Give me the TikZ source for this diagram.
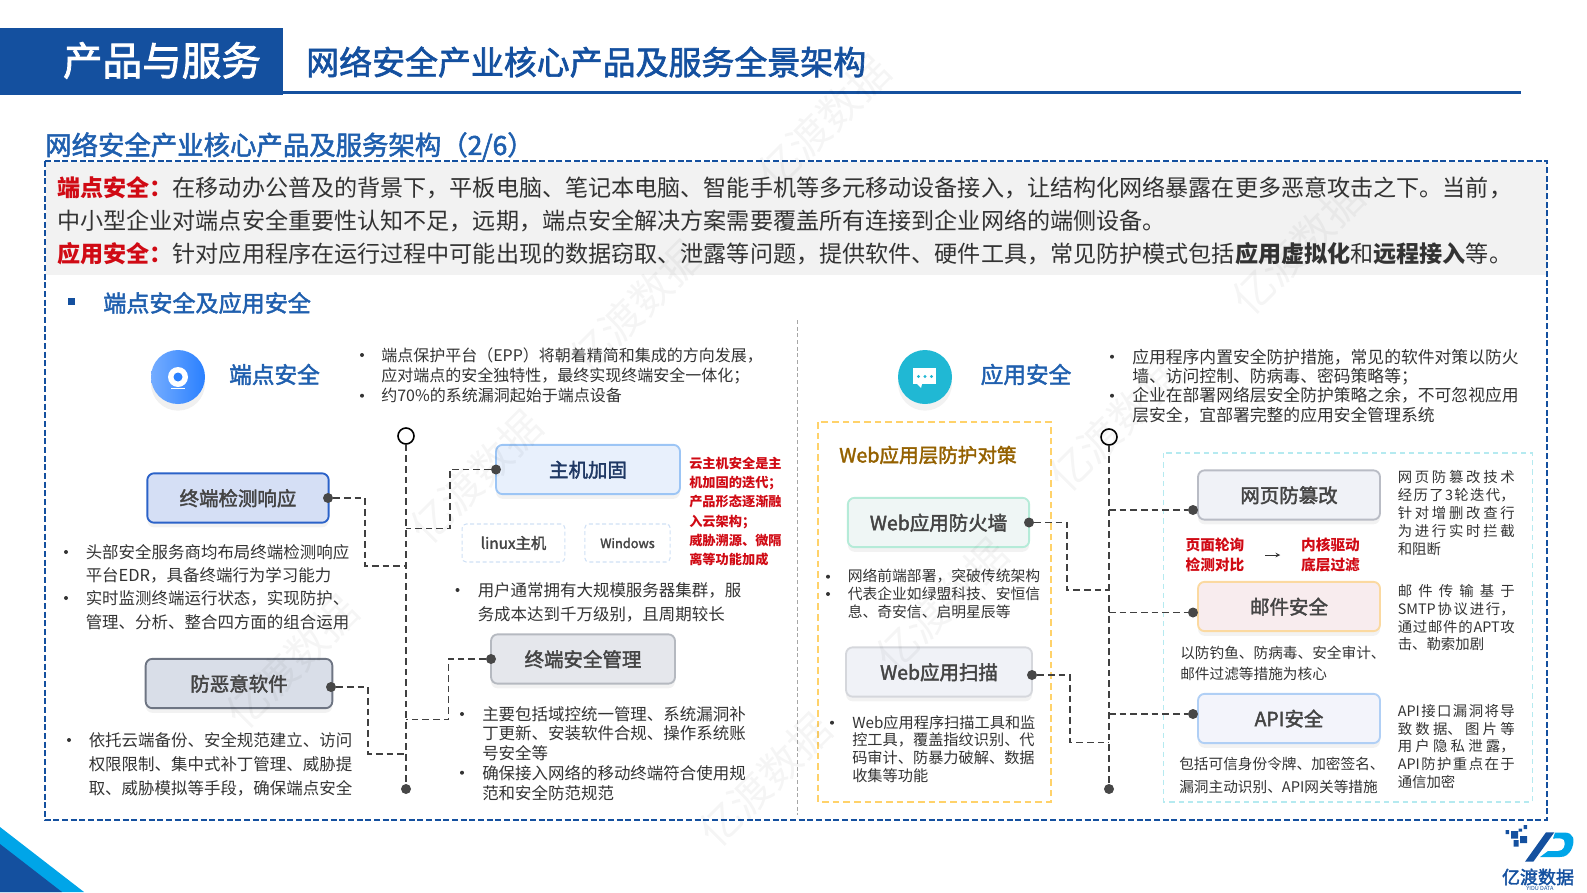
\documentclass[tikz,border=0pt]{standalone}
\usepackage{fontspec}
\setmainfont{Noto Sans CJK SC}
\newfontfamily\semib{Noto Sans CJK SC}[FakeBold=2]
\usetikzlibrary{shadows}
\XeTeXlinebreaklocale "zh"
\XeTeXlinebreakskip=0pt plus 8pt
\definecolor{navy}{HTML}{14509F}
\definecolor{titleblue}{HTML}{1F5FAE}
\definecolor{band}{HTML}{F2F2F2}
\definecolor{txt}{HTML}{333333}
\definecolor{redtxt}{HTML}{D00A14}
\definecolor{boxtxt}{HTML}{444444}
\definecolor{cyanb}{HTML}{00A5E8}
\definecolor{iconblue}{HTML}{2A80FF}
\definecolor{iconteal}{HTML}{20B8D4}
\definecolor{tagline}{HTML}{CFE0F5}
% one justified line of the narrow columns
\newcommand{\jline}[1]{\parbox[b]{87.75pt}{\parfillskip=0pt\tolerance=9999\hbadness=10000 #1\par}}
\tikzset{
  card/.style={draw, rounded corners=5pt, line width=1.4pt, minimum height=37pt, inner sep=0pt,
    text height=12.5pt, text depth=1pt,
    font=\fontsize{14.6}{17}\selectfont\semib, text=boxtxt,
    drop shadow={opacity=.10, shadow xshift=0pt, shadow yshift=-3.5pt}},
  para/.style 2 args={anchor=west, align=left, inner sep=0pt, text=txt, font=\fontsize{#1}{#2}\selectfont},
  bul/.style={circle, fill=txt, inner sep=0pt, minimum size=3pt},
  dotn/.style={circle, fill=black!72, inner sep=0pt, minimum size=7.5pt},
  link/.style={draw=black!75, line width=.9pt, dash pattern=on 5pt off 3pt},
  ring/.style={circle, draw=black, fill=white, line width=1.2pt, inner sep=0pt, minimum size=12pt},
  tag/.style={draw=tagline, line width=.8pt, rounded corners=3pt, dash pattern=on 3pt off 2pt, inner sep=0pt,
    minimum height=28.5pt, font=\fontsize{11.5}{14}\selectfont\semib, text=boxtxt},
  head/.style={font=\fontsize{17}{20}\selectfont\semib, text=titleblue},
  redn/.style={align=center, inner sep=0pt, text=redtxt, font=\fontsize{11}{15.5}\selectfont\bfseries},
  wmark/.style={rotate=45, opacity=.04, text=black, font=\fontsize{31}{31}\selectfont},
}
\begin{document}
\begin{tikzpicture}[x=.75pt, y=-.75pt]
  \useasboundingbox (0,0) rectangle (1587,892);
  % header
  \fill[navy] (0,28) rectangle (283,95);
  \fill[navy] (283,91) rectangle (1521,94);
  \node[text=white, font=\fontsize{29.7}{32}\selectfont\semib, inner sep=0pt] (chap) at (162,60.5) {产品与服务};
  \node[anchor=west, inner sep=0pt, text=navy, font=\fontsize{24.7}{28}\selectfont\semib] (pagetitle) at (306,62) {网络安全产业核心产品及服务全景架构};
  \node[anchor=west, inner sep=0pt, text=titleblue, font=\fontsize{19.8}{24}\selectfont\semib] (sect) at (45,146) {网络安全产业核心产品及服务架构（2/6）};
  % frame and text band
  \fill[band] (46,162) rectangle (1547,275);
  \draw[navy, line width=1.7pt, dash pattern=on 4.5pt off 2pt] (45,161) rectangle (1547,820);
  \node[para={17.32}{24.75}] (intro) at (57,221) {{\color{redtxt}\bfseries 端点安全：}在移动办公普及的背景下，平板电脑、笔记本电脑、智能手机等多元移动设备接入，让结构化网络暴露在更多恶意攻击之下。当前，\\
    中小型企业对端点安全重要性认知不足，远期，端点安全解决方案需要覆盖所有连接到企业网络的端侧设备。\\
    {\color{redtxt}\bfseries 应用安全：}针对应用程序在运行过程中可能出现的数据窃取、泄露等问题，提供软件、硬件工具，常见防护模式包括{\bfseries 应用虚拟化}和{\bfseries 远程接入}等。};
  \fill[navy] (68,298) rectangle (75,305);
  \node[anchor=west, inner sep=0pt, text=titleblue, font=\fontsize{17.3}{20}\selectfont\semib] (subsect) at (103,303) {端点安全及应用安全};
  \draw[gray!70, line width=.6pt, dash pattern=on 3pt off 2pt] (797.5,320) -- (797.5,815);

  % left half
  \node[circle, minimum size=40.5pt, inner sep=0pt, left color=iconblue!65!white, right color=iconblue, drop shadow={opacity=.12, shadow xshift=0pt, shadow yshift=-5pt}] (iconl) at (178,377) {};
  \fill[white] (178,377) circle (10);
  \fill[iconblue] (178,377) circle (4.5);
  \fill[white] (171,387.5) rectangle (185,389);
  \node[head] (endp) at (274.5,374.5) {端点安全};
  \node[bul] (b1) at (362,355) {};
  \node[bul] (b2) at (362,395.7) {};
  \node[para={12}{15}] (endptxt) at (381,375.5) {端点保护平台（EPP）将朝着精简和集成的方向发展，\\应对端点的安全独特性，最终实现终端安全一体化；\\约70\%的系统漏洞起始于端点设备};

  \node[ring] (topl) at (406,436) {};
  \node[dotn] (botl) at (406,789) {};
  \draw[link] (topl) -- (botl);

  \node[card, minimum width=136pt, fill={rgb,255:red,213;green,223;blue,245}, draw={rgb,255:red,43;green,98;blue,200}] (edr) at (238,498) {终端检测响应};
  \node[dotn] (edrd) at (328,498) {};
  \coordinate (edrk) at (365,566);
  \coordinate (edrs) at (406,566);
  \draw[link] (edrd) -| (edrk) -- (edrs);
  \node[bul] (b3) at (66,552) {};
  \node[bul] (b4) at (66,598) {};
  \node[para={12.35}{17.5}] (edrtxt) at (85.5,586.7) {头部安全服务商均布局终端检测响应\\平台EDR，具备终端行为学习能力\\实时监测终端运行状态，实现防护、\\管理、分析、整合四方面的组合运用};

  \node[card, minimum width=140pt, fill={rgb,255:red,217;green,222;blue,232}, draw={rgb,255:red,110;green,117;blue,131}] (anti) at (239,683.5) {防恶意软件};
  \node[dotn] (antid) at (331,687) {};
  \coordinate (antik) at (368,754);
  \coordinate (antis) at (406,754);
  \draw[link] (antid) -| (antik) -- (antis);
  \node[bul] (b5) at (69,740) {};
  \node[para={12.35}{18}] (antitxt) at (88.5,764) {依托云端备份、安全规范建立、访问\\权限限制、集中式补丁管理、威胁提\\取、威胁模拟等手段，确保端点安全};

  \node[card, minimum width=138pt, fill={rgb,255:red,232;green,240;blue,252}, draw={rgb,255:red,156;green,197;blue,245}, text={rgb,255:red,31;green,56;blue,100}] (host) at (588,469.5) {主机加固};
  \node[dotn] (hostd) at (496,469.5) {};
  \coordinate (hostk) at (450,528.5);
  \coordinate (hosts) at (406,528.5);
  \draw[link] (hostd) -| (hostk) -- (hosts);
  \node[tag, minimum width=77pt] (linuxn) at (513.5,543) {linux主机};
  \node[tag, minimum width=64pt, font=\fontsize{9.6}{12}\selectfont\semib] (winn) at (627.5,543) {Windows};
  \node[para={9.9}{14.3}, text=redtxt, font=\fontsize{9.9}{14.3}\selectfont\bfseries] (hostred) at (689,511.5) {云主机安全是主\\机加固的迭代；\\产品形态逐渐融\\入云架构；\\威胁溯源、微隔\\离等功能加成};
  \node[bul] (b6) at (457.5,590) {};
  \node[para={12.35}{18}] (hosttxt) at (477.5,602) {用户通常拥有大规模服务器集群，服\\务成本达到千万级别，且周期较长};

  \node[card, minimum width=138pt, fill={rgb,255:red,229;green,231;blue,236}, draw={rgb,255:red,181;green,185;blue,192}] (term) at (583,659) {终端安全管理};
  \node[dotn] (termd) at (491,659) {};
  \coordinate (termk) at (448.5,719.5);
  \coordinate (terms) at (406,719.5);
  \draw[link] (termd) -| (termk) -- (terms);
  \node[bul] (b7) at (462,714) {};
  \node[bul] (b8) at (462,772.7) {};
  \node[para={12.35}{14.8}] (termtxt) at (482,753.3) {主要包括域控统一管理、系统漏洞补\\丁更新、安装软件合规、操作系统账\\号安全等\\确保接入网络的移动终端符合使用规\\范和安全防范规范};

  % right half
  \node[circle, minimum size=40.5pt, inner sep=0pt, fill=iconteal, drop shadow={opacity=.10, shadow xshift=0pt, shadow yshift=-5pt}] (iconr) at (925,377) {};
  \fill[white] (912.7,368) rectangle (935.7,384);
  \fill[white] (917,384) -- (921,388) -- (922,384) -- cycle;
  \fill[iconteal] (918.5,376.5) circle (1.7) (925,376.5) circle (1.7) (931.5,376.5) circle (1.7);
  \node[head] (appn) at (1026,374.5) {应用安全};
  \node[bul] (b9) at (1112,356.7) {};
  \node[bul] (b10) at (1112,395.7) {};
  \node[para={12.6}{14.6}] (apptxt) at (1132,386) {应用程序内置安全防护措施，常见的软件对策以防火\\墙、访问控制、防病毒、密码策略等；\\企业在部署网络层安全防护策略之余，不可忽视应用\\层安全，宜部署完整的应用安全管理系统};

  \draw[draw={rgb,255:red,255;green,210;blue,106}, line width=1.1pt, dash pattern=on 5pt off 3pt] (818,422) rectangle (1051,802);
  \draw[draw={rgb,255:red,181;green,234;blue,240}, line width=1pt, dash pattern=on 4pt off 3pt] (1163.5,453) rectangle (1532.5,802);
  \node[anchor=west, inner sep=0pt, text={rgb,255:red,148;green,97;blue,0}, font=\fontsize{14.7}{17}\selectfont\semib] (webt) at (839,455) {Web应用层防护对策};

  \node[ring] (topr) at (1109,437) {};
  \node[dotn] (botr) at (1109,789) {};
  \draw[link] (topr) -- (botr);

  \node[card, minimum width=136pt, fill={rgb,255:red,239;green,246;blue,245}, draw={rgb,255:red,181;green,235;blue,216}] (waf) at (938.5,522.5) {Web应用防火墙};
  \node[dotn] (wafd) at (1029,522.5) {};
  \coordinate (wafk) at (1067,590);
  \coordinate (wafs) at (1109,590);
  \draw[link] (wafd) -| (wafk) -- (wafs);
  \node[bul] (b11) at (828,576.7) {};
  \node[bul] (b12) at (828,594) {};
  \node[para={11.1}{13.5}] (waftxt) at (847.5,594.3) {网络前端部署，突破传统架构\\代表企业如绿盟科技、安恒信\\息、奇安信、启明星辰等};

  \node[card, minimum width=139.5pt, fill={rgb,255:red,240;green,242;blue,247}, draw={rgb,255:red,213;green,215;blue,220}] (scan) at (939,672) {Web应用扫描};
  \node[dotn] (scand) at (1032,675) {};
  \coordinate (scank) at (1070,742.5);
  \coordinate (scans) at (1109,742.5);
  \draw[link] (scand) -| (scank) -- (scans);
  \node[bul] (b13) at (832,722.7) {};
  \node[para={11.4}{13.3}] (scantxt) at (852,749) {Web应用程序扫描工具和监\\控工具，覆盖指纹识别、代\\码审计、防暴力破解、数据\\收集等功能};

  \node[card, minimum width=136.5pt, fill={rgb,255:red,240;green,242;blue,247}, draw={rgb,255:red,185;green,188;blue,197}] (tamper) at (1289,495) {网页防篡改};
  \node[dotn] (tamperd) at (1193,510) {};
  \coordinate (tampers) at (1109,510);
  \draw[link] (tampers) -- (tamperd);
  \node[para={10.8}{13.4}] (tampertxt) at (1397.5,513) {\jline{网页防篡改技术}\\\jline{经历了3轮迭代，}\\\jline{针对增删改查行}\\\jline{为进行实时拦截}\\和阻断};
  \node[redn] (poll) at (1215,555) {页面轮询\\检测对比};
  \node[redn] (kern) at (1330.5,555) {内核驱动\\底层过滤};
  \draw[-stealth, black!80, line width=.6pt, shorten >=15.5pt, shorten <=15.5pt] (poll) -- (kern);

  \node[card, minimum width=136.5pt, fill={rgb,255:red,248;green,236;blue,238}, draw={rgb,255:red,251;green,217;blue,160}] (mail) at (1289,606.5) {邮件安全};
  \node[dotn] (maild) at (1193,612.5) {};
  \coordinate (mails) at (1109,612.5);
  \draw[link] (mails) -- (maild);
  \node[para={10.8}{13.4}] (mailtxt) at (1397.5,617.7) {\jline{邮件传输基于}\\\jline{SMTP协议进行，}\\\jline{通过邮件的APT攻}\\击、勒索加剧};
  \node[para={11}{15.7}] (mailsub) at (1180,663) {以防钓鱼、防病毒、安全审计、\\邮件过滤等措施为核心};

  \node[card, minimum width=136.5pt, fill={rgb,255:red,243;green,244;blue,251}, draw={rgb,255:red,176;green,207;blue,245}] (api) at (1289,718.5) {API安全};
  \node[dotn] (apid) at (1193,714) {};
  \coordinate (apis) at (1109,714);
  \draw[link] (apis) -- (apid);
  \node[para={10.8}{13.4}] (apitxt) at (1397.5,746.5) {\jline{API接口漏洞将导}\\\jline{致数据、图片等}\\\jline{用户隐私泄露，}\\\jline{API防护重点在于}\\通信加密};
  \node[para={11}{16.7}] (apisub) at (1179,775.5) {包括可信身份令牌、加密签名、\\漏洞主动识别、API网关等措施};

  % corner
  \fill[cyanb] (0,827) -- (84,892) -- (0,892) -- cycle;
  \fill[navy] (0,844) -- (62,892) -- (0,892) -- cycle;

  % logo
  \fill[navy] (1546,832.3) -- (1554.3,832.3) -- (1533.3,861.7) -- (1525,861.7) -- cycle;
  \fill[cyanb] (1555,832.5) -- (1564,832.5) .. controls (1574,832.5) and (1575,840) .. (1572,848) .. controls (1569,855) and (1565,857) .. (1560,857) -- (1540,857) -- (1548,851) -- (1558,851) .. controls (1564,851) and (1566,845) .. (1564,840) .. controls (1563,838) and (1561,838.5) .. (1553,838.5) -- cycle;
  \fill[navy] (1511,831) rectangle (1518,838.5) (1520,836) rectangle (1527,843) (1513.5,840) rectangle (1518.5,846.5) (1505.5,830) rectangle (1509,834) (1518.5,828.5) rectangle (1522,831.5) (1523.5,825) rectangle (1527,829);
  \node[inner sep=0pt, text=navy, font=\fontsize{13.5}{15}\selectfont\semib] (logoname) at (1538,877) {亿渡数据};
  \node[inner sep=0pt, text=navy, font=\fontsize{4.2}{5}\selectfont] (logosub) at (1540,888) {YIDU DATA};

  % watermark
  \foreach \wx/\wy [count=\wn] in {824/122, 636/307, 476/477, 292/662, 1115/425, 942/605, 765/780, 1298/248}
    \node[wmark] (wm\wn) at (\wx,\wy) {亿渡数据};
\end{tikzpicture}
\end{document}
